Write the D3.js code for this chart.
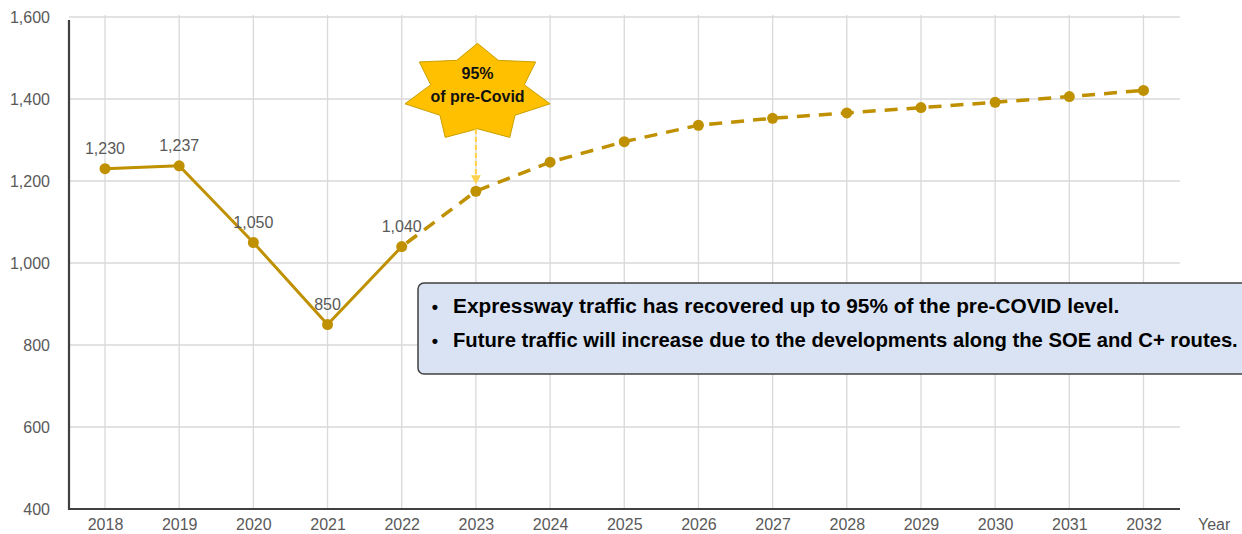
<!DOCTYPE html>
<html>
<head>
<meta charset="utf-8">
<script src="https://cdn.jsdelivr.net/npm/d3@7"></script>
<style>
  html, body { margin: 0; padding: 0; background: #ffffff; }
  svg { display: block; font-family: "Liberation Sans", Arial, sans-serif; }
</style>
</head>
<body>
<svg id="chart" width="1242" height="534"></svg>
<script>
// ---- data ----
const years = [2018, 2019, 2020, 2021, 2022, 2023, 2024, 2025, 2026, 2027, 2028, 2029, 2030, 2031, 2032];
const traffic = [1230, 1237, 1050, 850, 1040, 1175, 1246, 1296, 1336, 1353, 1366, 1379, 1392, 1406, 1421];
const actualCount = 5; // 2018–2022 labelled actuals
const yTicks = [400, 600, 800, 1000, 1200, 1400, 1600];
const starLines = ["95%", "of pre-Covid"];
const starYear = 2023;
const noteLines = [
  "Expressway traffic has recovered up to 95% of the pre-COVID level.",
  "Future traffic will increase due to the developments along the SOE and C+ routes."
];
const xAxisTitle = "Year";

// ---- setup ----
const svg = d3.select("#chart");
const gold = "#BF9000";
const grey = "#595959";
const x = d3.scaleLinear().domain([2018, 2032]).range([105, 1143.5]);
const y = d3.scaleLinear().domain([400, 1600]).range([509, 17]);
const plotLeft = 69, plotRight = 1180;

// gridlines
const grid = svg.append("g");
grid.selectAll("line.h").data(yTicks.slice(1)).enter().append("line")
  .attr("x1", plotLeft).attr("x2", plotRight)
  .attr("y1", d => y(d)).attr("y2", d => y(d))
  .attr("stroke", "#D9D9D9").attr("stroke-width", 1.3);
grid.selectAll("line.v").data(years).enter().append("line")
  .attr("x1", d => x(d)).attr("x2", d => x(d))
  .attr("y1", y(1600) - 2).attr("y2", y(400))
  .attr("stroke", "#D9D9D9").attr("stroke-width", 1.3);

// axes
const yAxis = d3.axisLeft(y).tickValues(yTicks).tickSize(0).tickPadding(19)
  .tickFormat(d3.format(","));
const gy = svg.append("g").attr("transform", `translate(${plotLeft},0)`).call(yAxis);
gy.select(".domain").remove();
gy.selectAll("text").attr("fill", grey).style("font-size", "16px")
  .style("font-family", "Liberation Sans, Arial, sans-serif");

const xAxis = d3.axisBottom(x).tickValues(years).tickSize(0).tickPadding(10)
  .tickFormat(d3.format("d"));
const gx = svg.append("g").attr("transform", `translate(0,${y(400)})`).call(xAxis);
gx.select(".domain").remove();
gx.selectAll("text").attr("fill", grey).style("font-size", "16px")
  .style("font-family", "Liberation Sans, Arial, sans-serif");

svg.append("line").attr("x1", plotLeft).attr("x2", plotLeft)
  .attr("y1", 20).attr("y2", y(400) + 1)
  .attr("stroke", "#404040").attr("stroke-width", 2.2);
svg.append("line").attr("x1", plotLeft).attr("x2", plotRight)
  .attr("y1", y(400)).attr("y2", y(400))
  .attr("stroke", "#404040").attr("stroke-width", 2);

svg.append("text").attr("x", 1198).attr("y", 530)
  .attr("fill", grey).style("font-size", "16px").text(xAxisTitle);

// ---- series ----
const pts = years.map((yr, i) => ({ yr, v: traffic[i], i }));
const line = d3.line().x(d => x(d.yr)).y(d => y(d.v));

svg.append("path").datum(pts.slice(actualCount - 1))
  .attr("d", line).attr("fill", "none").attr("stroke", gold)
  .attr("stroke-width", 3.5).attr("stroke-dasharray", "13 9")
  .attr("stroke-dashoffset", -6);
svg.append("path").datum(pts.slice(0, actualCount))
  .attr("d", line).attr("fill", "none").attr("stroke", gold)
  .attr("stroke-width", 3).attr("stroke-linejoin", "round");

svg.append("g").selectAll("circle").data(pts).enter().append("circle")
  .attr("cx", d => x(d.yr)).attr("cy", d => y(d.v)).attr("r", 5.5)
  .attr("fill", gold);

svg.append("g").selectAll("text").data(pts.slice(0, actualCount)).enter().append("text")
  .attr("x", d => x(d.yr)).attr("y", d => y(d.v) - 15)
  .attr("text-anchor", "middle").attr("fill", grey).style("font-size", "16px")
  .text(d => d3.format(",")(d.v));

// ---- star callout ----
const cx = 477.5, cy = 92.8, rx = 74.4, ry = 49.5, irx = 48, iry = 36;
const starPts = [];
for (let k = 0; k < 14; k++) {
  const a = -Math.PI / 2 + k * Math.PI / 7;
  const outer = k % 2 === 0;
  starPts.push([cx + Math.cos(a) * (outer ? rx : irx), cy + Math.sin(a) * (outer ? ry : iry)]);
}
svg.append("polygon").attr("points", starPts.map(p => p.join(",")).join(" "))
  .attr("fill", "#FFC000").attr("stroke", "#C9A000").attr("stroke-width", 1);
svg.append("text").attr("x", cx).attr("y", 79).attr("text-anchor", "middle")
  .style("font-size", "16px").style("font-weight", "bold").attr("fill", "#111").text(starLines[0]);
svg.append("text").attr("x", cx).attr("y", 102).attr("text-anchor", "middle")
  .style("font-size", "16px").style("font-weight", "bold").attr("fill", "#111").text(starLines[1]);

// arrow
const ax = x(starYear);
const tipY = y(traffic[years.indexOf(starYear)]) - 7;
svg.append("line").attr("x1", ax).attr("x2", ax).attr("y1", 129).attr("y2", tipY - 6)
  .attr("stroke", "#FFD34D").attr("stroke-width", 2.2).attr("stroke-dasharray", "5 3");
svg.append("path")
  .attr("d", `M${ax - 5},${tipY - 9} L${ax + 5},${tipY - 9} L${ax},${tipY} Z`)
  .attr("fill", "#FFD34D");

// ---- note box ----
svg.append("rect").attr("x", 418).attr("y", 283).attr("width", 900).attr("height", 91)
  .attr("rx", 6).attr("ry", 6)
  .attr("fill", "#DAE3F3").attr("stroke", "#404040").attr("stroke-width", 1.5);

const noteG = svg.append("g");
const baselines = [313, 347];
noteLines.forEach((t, i) => {
  noteG.append("text").attr("x", 435).attr("y", baselines[i])
    .style("font-size", "18px").style("font-weight", "bold").attr("fill", "#000")
    .attr("text-anchor", "middle").text("\u2022");
});
const tl = noteLines.map((t, i) => noteG.append("text")
  .attr("x", 0).attr("y", 0)
  .style("font-size", "19.5px").style("font-weight", "bold").attr("fill", "#000").text(t));
const natural = tl[0].node().getComputedTextLength();
const k1 = 667 / natural;
const nat2 = tl[1].node().getComputedTextLength();
const k2 = Math.min(k1, (1238 - 453) / nat2);
tl[0].attr("transform", `translate(453,${baselines[0]}) scale(${k1},1)`);
tl[1].attr("transform", `translate(453,${baselines[1]}) scale(${k2},1)`);
</script>
</body>
</html>
